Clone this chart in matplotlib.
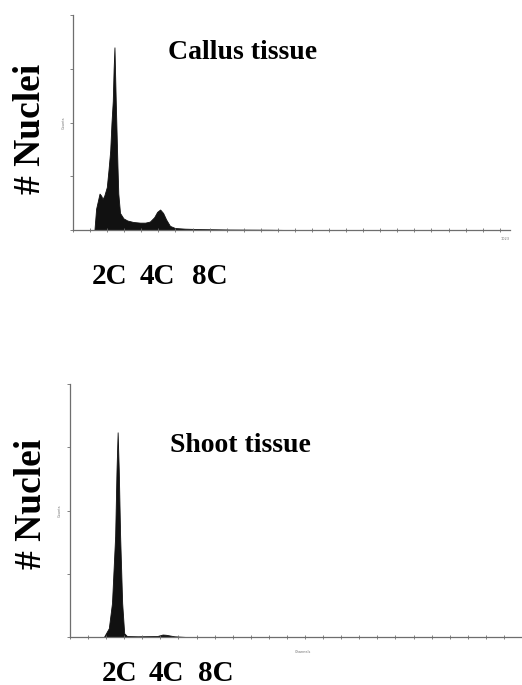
import matplotlib.pyplot as plt

# DNA content histograms (channel, % of full scale)
callus_ch = [0, 50, 54, 62, 66, 69, 73, 79, 83, 87, 90, 93, 95, 97, 100, 102, 104, 106, 110,
             118, 127, 141, 157, 169, 180, 190, 197, 204, 211, 218, 227, 239, 262, 298, 368,
             462, 532, 1023]
callus_val = [0, 0, 10, 17, 16, 14.5, 16, 20, 28, 37, 50, 60, 75, 85, 60, 45, 30, 17, 8,
              5.5, 4.5, 3.8, 3.5, 3.5, 4, 6, 8.5, 9.6, 8, 5, 2, 1, 0.7, 0.5, 0.3,
              0.2, 0, 0]

shoot_ch = [0, 75, 86, 93, 100, 103, 105.5, 108, 111, 115.5, 120, 126, 150, 193, 205, 212,
            231, 260, 1023]
shoot_val = [0, 0, 3.5, 13.5, 40, 66, 81, 66, 40, 13.5, 1.5, 0.4, 0.3, 0.4, 1.0, 0.9,
             0.3, 0, 0]

peak_labels = ['2C', '4C', '8C']
top_label_x = [110, 157.5, 210]
bottom_label_x = [120, 166, 216]

serif = ['Liberation Serif', 'DejaVu Serif']
axis_col = '#6e6e6e'

fig = plt.figure(figsize=(5.22, 6.85), dpi=100)

def style(ax, xmax):
    ax.set_xlim(0, xmax)
    ax.set_ylim(0, 100)
    for s in ['top', 'right']:
        ax.spines[s].set_visible(False)
    for s in ['left', 'bottom']:
        ax.spines[s].set_color(axis_col)
        ax.spines[s].set_linewidth(0.9)
    ax.set_yticks([0, 25, 50, 75, 100])
    ax.set_xticks(range(0, 1024, 40))
    ax.set_yticklabels([])
    ax.set_xticklabels([])
    ax.tick_params(axis='y', direction='out', length=2.5, width=0.6, color=axis_col)
    ax.tick_params(axis='x', direction='inout', length=2.5, width=0.6, color=axis_col)
    ax.patch.set_alpha(0)

ax1 = fig.add_axes([0.140, 0.664, 0.837, 0.314])
ax1.fill_between(callus_ch, callus_val, color='#111111', lw=0.6)
style(ax1, 1024)
ax1.text(1024, -3, '1023', fontsize=2.5, color=axis_col, ha='right', va='top')
ax1.text(-22, 50, 'Counts', fontsize=2.5, color=axis_col, rotation=90, ha='center', va='center')

ax2 = fig.add_axes([0.134, 0.070, 0.866, 0.369])
ax2.fill_between(shoot_ch, shoot_val, color='#111111', lw=0.6)
style(ax2, 967)
ax2.text(515, -5, 'Channels', fontsize=2.5, color=axis_col, ha='center', va='top')
ax2.text(-22, 50, 'Counts', fontsize=2.5, color=axis_col, rotation=90, ha='center', va='center')

fig.text(0.059, 0.812, '# Nuclei', rotation=90, fontsize=27, fontweight='bold',
         family=serif, ha='center', va='center')
fig.text(0.061, 0.264, '# Nuclei', rotation=90, fontsize=27, fontweight='bold',
         family=serif, ha='center', va='center')
fig.text(0.464, 0.924, 'Callus tissue', fontsize=20, fontweight='bold', family=serif,
         ha='center', va='center')
fig.text(0.460, 0.350, 'Shoot tissue', fontsize=20, fontweight='bold', family=serif,
         ha='center', va='center')

for lab, x in zip(peak_labels, top_label_x):
    fig.text(x / 522, 0.596, lab, fontsize=21, fontweight='bold', family=serif,
             ha='center', va='center')
for lab, x in zip(peak_labels, bottom_label_x):
    fig.text(x / 522, 0.0175, lab, fontsize=21, fontweight='bold', family=serif,
             ha='center', va='center')

fig.savefig('out.png', dpi=100)
